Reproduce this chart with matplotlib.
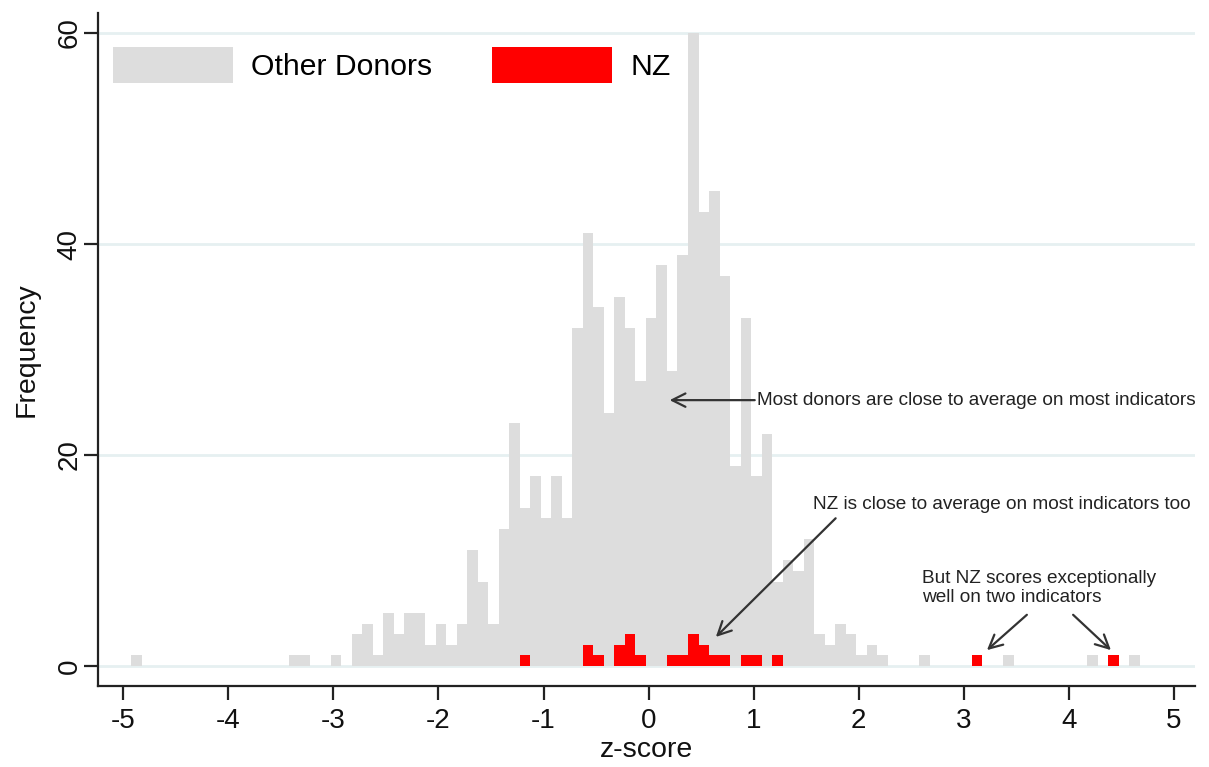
import matplotlib
matplotlib.use("Agg")
import matplotlib.pyplot as plt
from matplotlib.patches import Patch

# ---- data ----
bin_start = -4.925
bin_width = 0.1
other_counts = [1, 0, 0, 0, 0, 0, 0, 0, 0, 0, 0, 0, 0, 0, 0,
                1, 1, 0, 0, 1, 0, 3, 4, 1, 5, 3, 5, 5, 2, 4,
                2, 4, 11, 8, 4, 13, 23, 15, 18, 14, 18, 14, 32, 41, 34,
                24, 35, 32, 27, 33, 38, 28, 39, 60, 43, 45, 37, 19, 33, 18,
                22, 8, 10, 9, 12, 3, 2, 4, 3, 1, 2, 1, 0, 0, 0,
                1, 0, 0, 0, 0, 0, 0, 0, 1, 0, 0, 0, 0, 0, 0,
                0, 1, 0, 0, 0, 1]
nz_counts = [0] * 96
nz_bins = {37: 1, 43: 2, 44: 1, 46: 2, 47: 3, 48: 1, 51: 1, 52: 1, 53: 3,
           54: 2, 55: 1, 56: 1, 58: 1, 59: 1, 61: 1, 80: 1, 93: 1}
for k, v in nz_bins.items():
    nz_counts[k] = v

x_ticks = [-5, -4, -3, -2, -1, 0, 1, 2, 3, 4, 5]
y_ticks = [0, 20, 40, 60]
legend_labels = ["Other Donors", "NZ"]

GRAY = "#DDDDDD"
RED = "#FF0000"
GRID = "#E6F0F1"
AXC = "#222222"

plt.rcParams['font.family'] = ['Liberation Sans', 'DejaVu Sans']

fig = plt.figure(figsize=(12.09, 7.67), dpi=100)
ax = fig.add_axes([98 / 1209, 1 - 686 / 767, (1195 - 98) / 1209, (686 - 13) / 767])

lefts = [bin_start + bin_width * i for i in range(len(other_counts))]
ax.bar(lefts, other_counts, width=bin_width, align='edge', color=GRAY,
       linewidth=0, zorder=2)
ax.bar(lefts, nz_counts, width=bin_width, align='edge', color=RED,
       linewidth=0, zorder=3)

ax.set_xlim(-5.24, 5.20)
ax.set_ylim(-1.9, 61.9)
ax.set_xticks(x_ticks)
ax.set_yticks(y_ticks)
ax.set_xticklabels([str(t) for t in x_ticks])
ax.grid(axis='y', color=GRID, linewidth=2, zorder=0)
ax.set_axisbelow(True)

for s in ['top', 'right']:
    ax.spines[s].set_visible(False)
for s in ['left', 'bottom']:
    ax.spines[s].set_color(AXC)
    ax.spines[s].set_linewidth(1.6)
ax.tick_params(axis='both', direction='out', length=10, width=1.6, color=AXC,
               labelsize=20, labelcolor='#111111')
ax.tick_params(axis='x', pad=6)
ax.tick_params(axis='y', labelrotation=90, pad=1)
for lab in ax.get_yticklabels():
    lab.set_verticalalignment('center')

ax.set_xlabel("z-score", fontsize=20.5, labelpad=2, color='#111111')
ax.set_ylabel("Frequency", fontsize=20.5, labelpad=12, color='#111111')

handles = [Patch(facecolor=GRAY, edgecolor='none', label=legend_labels[0]),
           Patch(facecolor=RED, edgecolor='none', label=legend_labels[1])]
ax.legend(handles=handles, loc='upper left', bbox_to_anchor=(0.0137, 0.95),
          ncol=2, frameon=False, fontsize=21.7, handlelength=3.98,
          handleheight=1.5, handletextpad=0.6, columnspacing=2.0,
          borderpad=0, borderaxespad=0)

arrow = dict(arrowstyle='->', color='#333333', lw=1.6, mutation_scale=24,
             shrinkA=0, shrinkB=0)
tfs = 13.7
ax.annotate("", xy=(0.20, 25.2), xytext=(1.01, 25.2), arrowprops=arrow)
ax.text(1.03, 25.2, "Most donors are close to average on most indicators",
        fontsize=tfs, ha='left', va='center', color='#222222', clip_on=False)

ax.annotate("", xy=(0.64, 2.75), xytext=(1.78, 14.0), arrowprops=arrow)
ax.text(1.56, 15.35, "NZ is close to average on most indicators too",
        fontsize=tfs, ha='left', va='center', color='#222222', clip_on=False)

ax.text(2.60, 7.35, "But NZ scores exceptionally\nwell on two indicators",
        fontsize=tfs, ha='left', va='center', color='#222222',
        linespacing=1.15, clip_on=False)
ax.annotate("", xy=(3.22, 1.5), xytext=(3.60, 4.85), arrowprops=arrow)
ax.annotate("", xy=(4.40, 1.5), xytext=(4.04, 4.85), arrowprops=arrow)

fig.savefig("out.png", dpi=100, facecolor='white')
